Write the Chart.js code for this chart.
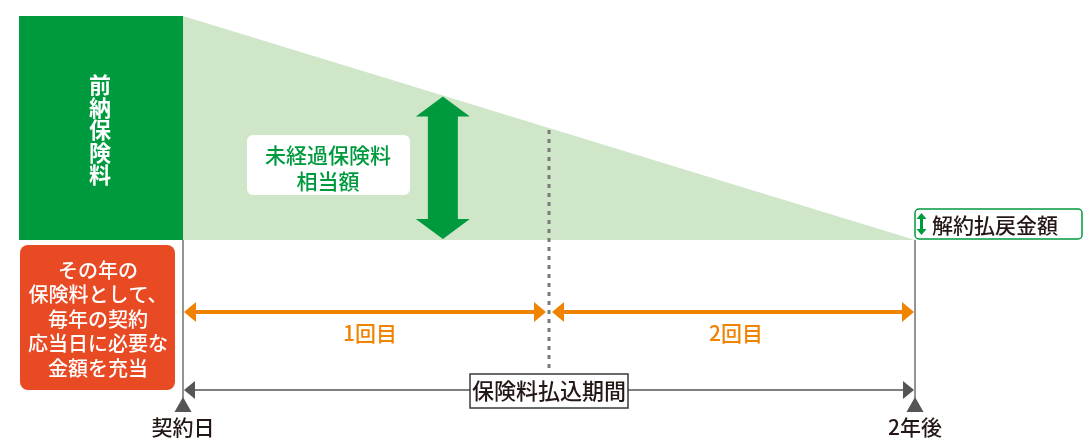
<!DOCTYPE html>
<html lang="ja">
<head>
  <meta charset="UTF-8" />
  <title>前納保険料と解約払戻金額</title>
  <script src="https://cdn.jsdelivr.net/npm/chart.js"></script>
  <style>
    html, body { margin: 0; padding: 0; background: #fff; }
    .wrap { width: 1084px; height: 438px; position: relative; }
  </style>
</head>
<body>
  <div class="wrap"><canvas id="zu"></canvas></div>

  <script>
    // データ（年数と未経過保険料の割合）
    const years = [0, 1, 2];
    const unexpiredPremium = [100, 50, 0];
    const prepaidPremium = 100;
    const dateYears = [0, 2];
    const dateLabels = ['契約日', '2年後'];
    const periodLabels = ['1回目', '2回目'];
    const prepaidLabel = ['前', '納', '保', '険', '料'];
    const unexpiredLabel = ['未経過保険料', '相当額'];
    const noteLines = ['その年の', '保険料として、', '毎年の契約', '応当日に必要な', '金額を充当'];
    const periodTitle = '保険料払込期間';
    const refundLabel = '解約払戻金額';

    const FONT = '"Noto Sans CJK JP", "Noto Sans", sans-serif';
    const GREEN = '#009a3e';
    const LIGHT = '#cfe6c9';
    const ORANGE = '#f08300';
    const RED = '#e84a23';
    const INK = '#231815';

    const blockLeft = -0.448;  // 前納ブロックの左端（年単位）
    const markerYear = 0.71;   // 緑の矢印の位置

    function head(ctx, tx, ty, dx, dy, len, half) {
      // dx,dy: 矢の向き（単位ベクトル）
      const bx = tx - dx * len, by = ty - dy * len;
      ctx.beginPath();
      ctx.moveTo(tx, ty);
      ctx.lineTo(bx - dy * half, by + dx * half);
      ctx.lineTo(bx + dy * half, by - dx * half);
      ctx.closePath();
      ctx.fill();
    }

    const diagram = {
      id: 'diagram',
      afterDatasetsDraw(chart) {
        const { ctx, scales: { x, y } } = chart;
        const X = v => x.getPixelForValue(v);
        const Y = v => y.getPixelForValue(v);
        const y0 = Y(0);
        ctx.save();
        ctx.textAlign = 'center';
        ctx.textBaseline = 'middle';

        // 前納保険料（縦書き）
        const bx = (X(blockLeft) + X(0)) / 2;
        ctx.fillStyle = '#fff';
        ctx.font = 'bold 22px ' + FONT;
        prepaidLabel.forEach((c, i) => ctx.fillText(c, bx - 1, Y(prepaidPremium) + 69 + i * 22.5));

        // 緑の両矢印（未経過保険料）
        const mx = X(markerYear);
        const t = (markerYear - years[0]) / (years[1] - years[0]);
        const mv = unexpiredPremium[0] + (unexpiredPremium[1] - unexpiredPremium[0]) * t;
        const top = Y(mv) + 1, bot = y0 - 1;
        ctx.fillStyle = GREEN;
        ctx.fillRect(mx - 15, top + 18, 30, bot - top - 36);
        head(ctx, mx, top, 0, -1, 20, 27);
        head(ctx, mx, bot, 0, 1, 20, 27);

        // 未経過保険料相当額 ラベル
        ctx.fillStyle = '#fff';
        ctx.beginPath();
        ctx.roundRect(247, 135, 163, 60, 6);
        ctx.fill();
        ctx.fillStyle = GREEN;
        ctx.font = '500 21px ' + FONT;
        ctx.fillText(unexpiredLabel[0], 328, 155);
        ctx.fillText(unexpiredLabel[1], 328, 181);

        // 1年目の区切り（点線）
        ctx.strokeStyle = '#7a7a7a';
        ctx.lineWidth = 3;
        ctx.setLineDash([4, 5]);
        ctx.beginPath();
        ctx.moveTo(X(years[1]), Y(unexpiredPremium[1]) + 2);
        ctx.lineTo(X(years[1]), y0 + 132);
        ctx.stroke();
        ctx.setLineDash([]);

        // 契約日・2年後の縦線
        ctx.strokeStyle = '#707070';
        ctx.lineWidth = 1.5;
        dateYears.forEach(v => {
          ctx.beginPath();
          ctx.moveTo(X(v), y0);
          ctx.lineTo(X(v), y0 + 158);
          ctx.stroke();
        });

        // 支払い回（オレンジ矢印）
        const ay = y0 + 72;
        ctx.strokeStyle = ORANGE;
        ctx.fillStyle = ORANGE;
        ctx.lineWidth = 4;
        periodLabels.forEach((lab, i) => {
          const a = X(years[i]) + (i === 0 ? 1 : 3);
          const b = X(years[i + 1]) - (i === 0 ? 3 : 1);
          ctx.beginPath();
          ctx.moveTo(a + 8, ay);
          ctx.lineTo(b - 8, ay);
          ctx.stroke();
          head(ctx, a, ay, -1, 0, 12, 10);
          head(ctx, b, ay, 1, 0, 12, 10);
          ctx.font = '500 21px ' + FONT;
          ctx.fillText(lab, (X(years[i]) + X(years[i + 1])) / 2 + 4, y0 + 93);
        });

        // 保険料払込期間
        const gy = y0 + 150;
        ctx.strokeStyle = '#555';
        ctx.fillStyle = '#555';
        ctx.lineWidth = 1.5;
        ctx.beginPath();
        ctx.moveTo(X(dateYears[0]) + 8, gy);
        ctx.lineTo(X(dateYears[1]) - 8, gy);
        ctx.stroke();
        head(ctx, X(dateYears[0]) + 1, gy, -1, 0, 11, 9);
        head(ctx, X(dateYears[1]) - 1, gy, 1, 0, 11, 9);
        const cx = X(years[1]);
        ctx.fillStyle = '#fff';
        ctx.fillRect(cx - 79, gy - 16, 158, 34);
        ctx.strokeStyle = '#3a3a3a';
        ctx.strokeRect(cx - 79, gy - 16, 158, 34);
        ctx.fillStyle = INK;
        ctx.font = '500 22px ' + FONT;
        ctx.fillText(periodTitle, cx, gy + 1);

        // 契約日・2年後
        dateYears.forEach((v, i) => {
          ctx.fillStyle = '#555';
          ctx.beginPath();
          ctx.moveTo(X(v), y0 + 157);
          ctx.lineTo(X(v) + 8.5, y0 + 172);
          ctx.lineTo(X(v) - 8.5, y0 + 172);
          ctx.closePath();
          ctx.fill();
          ctx.fillStyle = INK;
          ctx.font = '500 21px ' + FONT;
          ctx.fillText(dateLabels[i], X(v), y0 + 187);
        });

        // 左側の説明（オレンジの箱）
        ctx.fillStyle = RED;
        ctx.beginPath();
        ctx.roundRect(20, y0 + 5, 155, 145, 8);
        ctx.fill();
        ctx.fillStyle = '#fff';
        ctx.font = '500 20px ' + FONT;
        noteLines.forEach((s, i) => ctx.fillText(s, 98, y0 + 30 + i * 24.5));

        // 解約払戻金額
        const rx = X(years[2]);
        ctx.fillStyle = '#fff';
        ctx.strokeStyle = GREEN;
        ctx.lineWidth = 1.5;
        ctx.beginPath();
        ctx.roundRect(rx, y0 - 31, 167, 30, 4);
        ctx.fill();
        ctx.stroke();
        ctx.fillStyle = GREEN;
        ctx.fillRect(rx + 5, y0 - 24, 3, 16);
        head(ctx, rx + 6.5, y0 - 27, 0, -1, 6, 5);
        head(ctx, rx + 6.5, y0 - 5, 0, 1, 6, 5);
        ctx.fillStyle = INK;
        ctx.font = '500 21px ' + FONT;
        ctx.textAlign = 'left';
        ctx.fillText(refundLabel, rx + 17, y0 - 15);

        ctx.restore();
      }
    };

    new Chart(document.getElementById('zu'), {
      type: 'line',
      data: {
        datasets: [
          {
            label: '未経過保険料',
            data: years.map((v, i) => ({ x: v, y: unexpiredPremium[i] })),
            backgroundColor: LIGHT,
            borderWidth: 0,
            pointRadius: 0,
            fill: 'origin'
          },
          {
            label: '前納保険料',
            data: [{ x: blockLeft, y: prepaidPremium }, { x: 0, y: prepaidPremium }],
            backgroundColor: GREEN,
            borderWidth: 0,
            pointRadius: 0,
            fill: 'origin'
          }
        ]
      },
      options: {
        responsive: true,
        maintainAspectRatio: false,
        animation: false,
        layout: { padding: 0 },
        plugins: { legend: { display: false }, tooltip: { enabled: false } },
        scales: {
          x: { type: 'linear', min: -0.5, max: 2.4617, display: false },
          y: { min: -88.39, max: 107.14, display: false }
        }
      },
      plugins: [diagram]
    });
  </script>
</body>
</html>
